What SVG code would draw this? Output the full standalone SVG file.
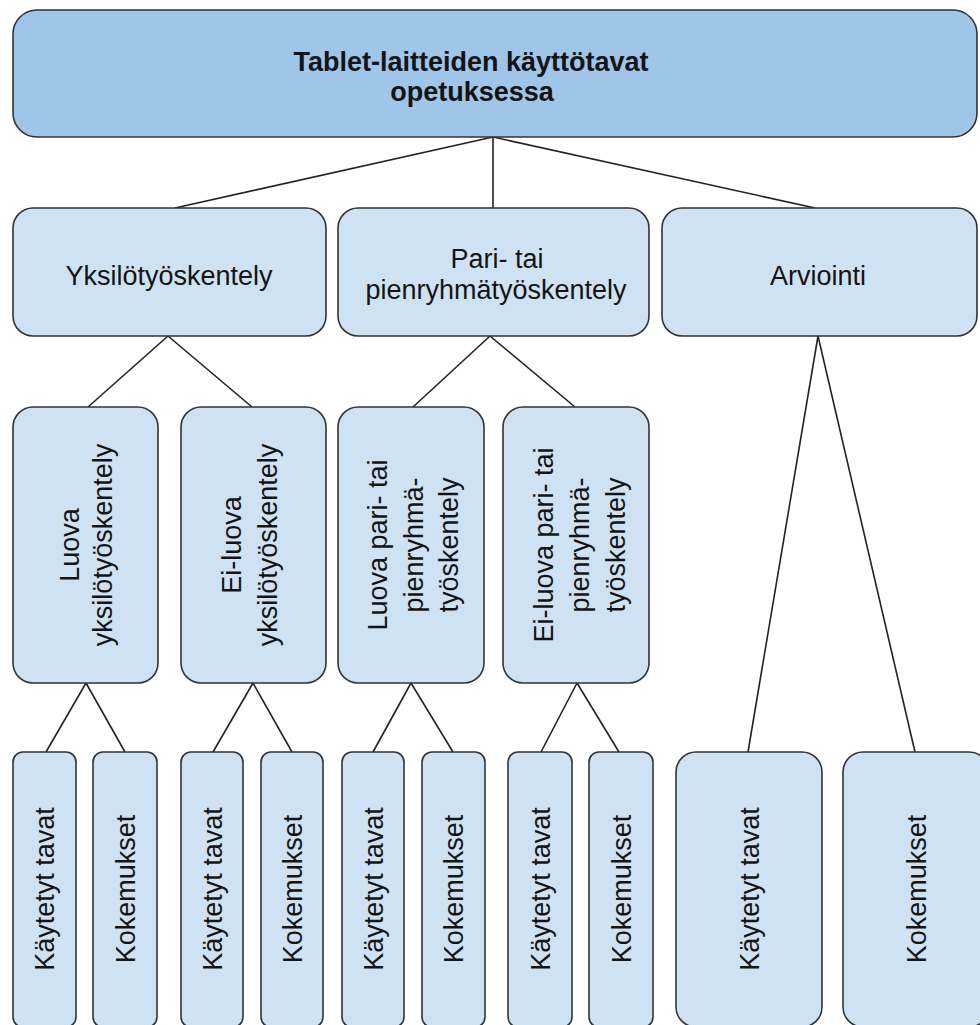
<svg xmlns="http://www.w3.org/2000/svg" width="980" height="1025" viewBox="0 0 980 1025">
<style>
.bg{fill:#ffffff}
.n{fill:#cfe2f3;stroke:#333333;stroke-width:1.6}
.root{fill:#9fc5e8;stroke:#333333;stroke-width:1.6}
.t{font-family:"Liberation Sans",Arial,sans-serif;font-size:27px;fill:#141414;text-anchor:middle}
.b{font-weight:bold}
.c{stroke:#222222;stroke-width:1.6;fill:none}
</style>
<rect class="bg" x="0" y="0" width="980" height="1025"/>
<g id="connectors">
<line class="c" x1="493" y1="137" x2="175" y2="208"/>
<line class="c" x1="493" y1="137" x2="493" y2="208"/>
<line class="c" x1="493" y1="137" x2="815" y2="208"/>
<line class="c" x1="168" y1="336" x2="88" y2="407"/>
<line class="c" x1="168" y1="336" x2="252" y2="407"/>
<line class="c" x1="490" y1="336" x2="413" y2="407"/>
<line class="c" x1="490" y1="336" x2="575" y2="407"/>
<line class="c" x1="818" y1="336" x2="748" y2="752"/>
<line class="c" x1="818" y1="336" x2="915" y2="752"/>
<line class="c" x1="86" y1="683" x2="46" y2="752"/>
<line class="c" x1="86" y1="683" x2="125" y2="752"/>
<line class="c" x1="253" y1="683" x2="213" y2="752"/>
<line class="c" x1="253" y1="683" x2="292" y2="752"/>
<line class="c" x1="411" y1="683" x2="373" y2="752"/>
<line class="c" x1="411" y1="683" x2="453" y2="752"/>
<line class="c" x1="577" y1="683" x2="541" y2="752"/>
<line class="c" x1="577" y1="683" x2="619" y2="752"/>
</g>
<g id="root">
<rect class="root" x="13" y="10" width="964" height="127" rx="24"/>
<text class="t b"><tspan x="471" y="71">Tablet-laitteiden käyttötavat</tspan><tspan x="472" y="101">opetuksessa</tspan></text>
</g>
<g id="yksilo">
<rect class="n" x="13" y="208" width="313" height="128" rx="20"/>
<text class="t" x="169" y="285">Yksilötyöskentely</text>
</g>
<g id="pari">
<rect class="n" x="338" y="208" width="311" height="128" rx="20"/>
<text class="t"><tspan x="497" y="268">Pari- tai</tspan><tspan x="496" y="299">pienryhmätyöskentely</tspan></text>
</g>
<g id="arviointi">
<rect class="n" x="662" y="208" width="315" height="128" rx="20"/>
<text class="t" x="818" y="285">Arviointi</text>
</g>
<g id="luova-yksilo">
<rect class="n" x="13" y="407" width="145" height="276" rx="20"/>
<text class="t" transform="translate(86,545) rotate(-90)"><tspan x="0" y="-7">Luova</tspan><tspan x="0" y="26">yksilötyöskentely</tspan></text>
</g>
<g id="eiluova-yksilo">
<rect class="n" x="181" y="407" width="145" height="276" rx="20"/>
<text class="t" transform="translate(253,545) rotate(-90)"><tspan x="0" y="-12">Ei-luova</tspan><tspan x="0" y="24">yksilötyöskentely</tspan></text>
</g>
<g id="luova-pari">
<rect class="n" x="338" y="407" width="146" height="276" rx="20"/>
<text class="t" transform="translate(411,545) rotate(-90)"><tspan x="0" y="-24">Luova pari- tai</tspan><tspan x="0" y="12">pienryhmä-</tspan><tspan x="0" y="47">työskentely</tspan></text>
</g>
<g id="eiluova-pari">
<rect class="n" x="503" y="407" width="146" height="276" rx="20"/>
<text class="t" transform="translate(576,545) rotate(-90)"><tspan x="0" y="-23">Ei-luova pari- tai</tspan><tspan x="0" y="13">pienryhmä-</tspan><tspan x="0" y="49">työskentely</tspan></text>
</g>
<g id="k1"><rect class="n" x="13" y="752" width="63" height="275" rx="10"/><text class="t" transform="translate(44.5,889) rotate(-90)" x="0" y="9.5">Käytetyt tavat</text></g>
<g id="e1"><rect class="n" x="93" y="752" width="64" height="275" rx="10"/><text class="t" transform="translate(125,889) rotate(-90)" x="0" y="9.5">Kokemukset</text></g>
<g id="k2"><rect class="n" x="181" y="752" width="62" height="275" rx="10"/><text class="t" transform="translate(212,889) rotate(-90)" x="0" y="9.5">Käytetyt tavat</text></g>
<g id="e2"><rect class="n" x="261" y="752" width="62" height="275" rx="10"/><text class="t" transform="translate(292,889) rotate(-90)" x="0" y="9.5">Kokemukset</text></g>
<g id="k3"><rect class="n" x="342" y="752" width="62" height="275" rx="10"/><text class="t" transform="translate(373,889) rotate(-90)" x="0" y="9.5">Käytetyt tavat</text></g>
<g id="e3"><rect class="n" x="422" y="752" width="63" height="275" rx="10"/><text class="t" transform="translate(453.5,889) rotate(-90)" x="0" y="9.5">Kokemukset</text></g>
<g id="k4"><rect class="n" x="508" y="752" width="64" height="275" rx="10"/><text class="t" transform="translate(540,889) rotate(-90)" x="0" y="9.5">Käytetyt tavat</text></g>
<g id="e4"><rect class="n" x="589" y="752" width="64" height="275" rx="10"/><text class="t" transform="translate(621,889) rotate(-90)" x="0" y="9.5">Kokemukset</text></g>
<g id="k5"><rect class="n" x="676" y="752" width="146" height="275" rx="20"/><text class="t" transform="translate(749,889) rotate(-90)" x="0" y="9.5">Käytetyt tavat</text></g>
<g id="e5"><rect class="n" x="843" y="752" width="146" height="275" rx="20"/><text class="t" transform="translate(916,889) rotate(-90)" x="0" y="9.5">Kokemukset</text></g>
</svg>
